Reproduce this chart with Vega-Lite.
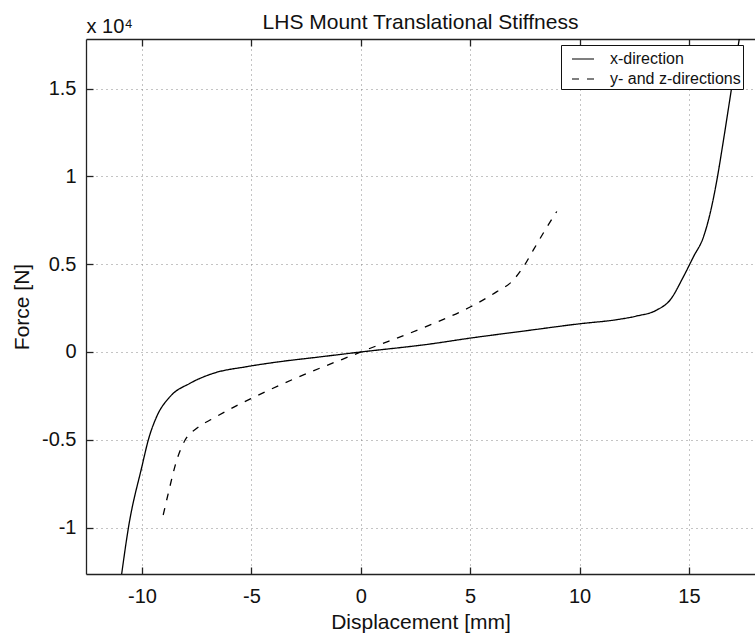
{
  "$schema": "https://vega.github.io/schema/vega-lite/v6.json",
  "width": 669,
  "height": 535,
  "autosize": "none",
  "padding": {"left": 86, "top": 39, "right": 0, "bottom": 59},
  "background": "white",
  "title": {
    "text": "LHS Mount Translational Stiffness",
    "font": "Liberation Sans",
    "fontSize": 21,
    "fontWeight": "normal",
    "color": "#111",
    "baseline": "alphabetic",
    "offset": 12,
    "dy": 46
  },
  "config": {
    "view": {"stroke": null},
    "font": "Liberation Sans",
    "axis": {
      "labelFont": "Liberation Sans",
      "titleFont": "Liberation Sans",
      "labelColor": "#111",
      "titleColor": "#111",
      "titleFontWeight": "normal",
      "domainColor": "#222",
      "domainWidth": 1.3,
      "tickColor": "#222",
      "tickWidth": 1.3,
      "labelFlush": false,
      "labelOverlap": false
    }
  },
  "data": {
    "values": [
      {"series": "x-direction", "disp": -10.93, "force": -12640},
      {"series": "x-direction", "disp": -10.62, "force": -10000},
      {"series": "x-direction", "disp": -10.0, "force": -6500},
      {"series": "x-direction", "disp": -9.71, "force": -5000},
      {"series": "x-direction", "disp": -9.33, "force": -3680},
      {"series": "x-direction", "disp": -8.72, "force": -2545},
      {"series": "x-direction", "disp": -7.81, "force": -1785},
      {"series": "x-direction", "disp": -6.74, "force": -1215},
      {"series": "x-direction", "disp": -5.21, "force": -835},
      {"series": "x-direction", "disp": -3.69, "force": -550},
      {"series": "x-direction", "disp": -2.0, "force": -300},
      {"series": "x-direction", "disp": 0.0, "force": 0},
      {"series": "x-direction", "disp": 3.17, "force": 455},
      {"series": "x-direction", "disp": 5.0, "force": 790},
      {"series": "x-direction", "disp": 7.5, "force": 1200},
      {"series": "x-direction", "disp": 10.03, "force": 1610},
      {"series": "x-direction", "disp": 11.7, "force": 1840},
      {"series": "x-direction", "disp": 12.62, "force": 2050},
      {"series": "x-direction", "disp": 13.53, "force": 2390},
      {"series": "x-direction", "disp": 14.14, "force": 2960},
      {"series": "x-direction", "disp": 14.75, "force": 4290},
      {"series": "x-direction", "disp": 15.21, "force": 5430},
      {"series": "x-direction", "disp": 15.67, "force": 6570},
      {"series": "x-direction", "disp": 15.97, "force": 7900},
      {"series": "x-direction", "disp": 16.28, "force": 9800},
      {"series": "x-direction", "disp": 16.58, "force": 12070},
      {"series": "x-direction", "disp": 16.96, "force": 15110},
      {"series": "x-direction", "disp": 17.3, "force": 17820},
      {"series": "y- and z-directions", "disp": -9.03, "force": -9280},
      {"series": "y- and z-directions", "disp": -8.8, "force": -8050},
      {"series": "y- and z-directions", "disp": -8.41, "force": -6150},
      {"series": "y- and z-directions", "disp": -8.03, "force": -5010},
      {"series": "y- and z-directions", "disp": -7.5, "force": -4345},
      {"series": "y- and z-directions", "disp": -6.74, "force": -3775},
      {"series": "y- and z-directions", "disp": -5.67, "force": -3050},
      {"series": "y- and z-directions", "disp": -5.0, "force": -2640},
      {"series": "y- and z-directions", "disp": -3.69, "force": -1880},
      {"series": "y- and z-directions", "disp": 0.0, "force": 0},
      {"series": "y- and z-directions", "disp": 3.17, "force": 1540},
      {"series": "y- and z-directions", "disp": 5.0, "force": 2560},
      {"series": "y- and z-directions", "disp": 6.22, "force": 3435},
      {"series": "y- and z-directions", "disp": 6.9, "force": 4005},
      {"series": "y- and z-directions", "disp": 7.44, "force": 4860},
      {"series": "y- and z-directions", "disp": 7.89, "force": 5810},
      {"series": "y- and z-directions", "disp": 8.43, "force": 6950},
      {"series": "y- and z-directions", "disp": 8.96, "force": 8000}
    ]
  },
  "encoding": {
    "y": {
      "field": "force",
      "type": "quantitative",
      "scale": {"domain": [-12640, 17820], "nice": false, "zero": false},
      "axis": {
        "orient": "left",
        "values": [-10000, -5000, 0, 5000, 10000, 15000],
        "labelExpr": "'' + datum.value / 10000",
        "labelFontSize": 20,
        "labelPadding": 17,
        "tickSize": -7,
        "grid": true,
        "gridDash": [1, 4],
        "gridColor": "#888",
        "gridWidth": 1,
        "title": "Force [N]",
        "titleFontSize": 21,
        "titleAngle": -90,
        "titleBaseline": "alphabetic",
        "titleX": -58
      }
    },
    "strokeDash": {
      "field": "series",
      "type": "nominal",
      "scale": {
        "domain": ["x-direction", "y- and z-directions"],
        "range": [[1, 0], [7, 8]]
      },
      "legend": {
        "orient": "none",
        "legendX": 475,
        "legendY": 6,
        "title": null,
        "padding": 2,
        "strokeColor": "#111",
        "fillColor": "white",
        "labelFont": "Liberation Sans",
        "labelFontSize": 16,
        "labelColor": "#111",
        "labelOffset": 15,
        "labelExpr": "datum.label + '\u00a0\u00a0\u00a0\u00a0\u00a0\u00a0\u00a0\u00a0'",
        "symbolType": "stroke",
        "symbolSize": 484,
        "symbolStrokeWidth": 1.2,
        "symbolStrokeColor": "black",
        "symbolOffset": 8,
        "rowPadding": 0
      }
    }
  },
  "resolve": {"axis": {"x": "independent"}},
  "layer": [
    {
      "transform": [{"filter": "datum.series === 'x-direction'"}],
      "mark": {"type": "line", "color": "black", "strokeWidth": 1.3, "interpolate": "monotone", "clip": true},
      "encoding": {
        "x": {
          "field": "disp",
          "type": "quantitative",
          "scale": {"domain": [-12.56, 18.02], "nice": false, "zero": false},
          "axis": {
            "orient": "bottom",
            "values": [-10, -5, 0, 5, 10, 15],
            "labelExpr": "'' + datum.value",
            "labelFontSize": 20,
            "labelPadding": 19,
            "tickSize": -7,
            "grid": true,
            "gridDash": [1, 4],
            "gridColor": "#888",
            "gridWidth": 1,
            "title": "Displacement [mm]",
            "titleFontSize": 21,
            "titleBaseline": "alphabetic",
            "titleY": 54
          }
        }
      }
    },
    {
      "transform": [{"filter": "datum.series === 'y- and z-directions'"}],
      "mark": {"type": "line", "color": "black", "strokeWidth": 1.3, "interpolate": "monotone", "clip": true},
      "encoding": {
        "x": {
          "field": "disp",
          "type": "quantitative",
          "scale": {"domain": [-12.56, 18.02], "nice": false, "zero": false},
          "axis": {
            "orient": "top",
            "values": [-10, -5, 0, 5, 10, 15],
            "labels": false,
            "grid": false,
            "tickSize": -7,
            "title": "x 10\u2074",
            "titleFontSize": 20,
            "titleAngle": 0,
            "titleAnchor": "start",
            "titleAlign": "left",
            "titleBaseline": "alphabetic",
            "titleX": 0,
            "titleY": -7
          }
        }
      }
    }
  ]
}
